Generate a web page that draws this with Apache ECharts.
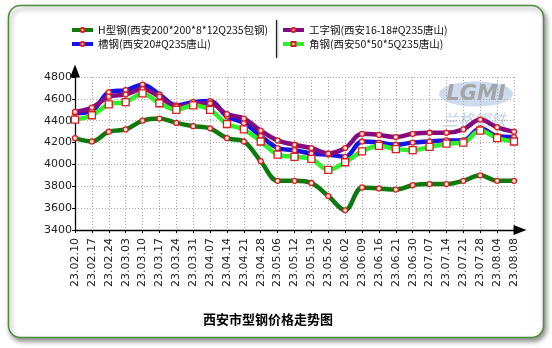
<!DOCTYPE html>
<html>
<head>
<meta charset="utf-8">
<script src="https://cdn.jsdelivr.net/npm/echarts@6/dist/echarts.min.js"></script>
<style>
  html, body { margin: 0; padding: 0; background: #fff; }
  #chart { width: 552px; height: 348px; }
</style>
</head>
<body>
<div id="chart"></div>
<script>
// Weekly quotation dates
const categories = [
  '23.02.10', '23.02.17', '23.02.24', '23.03.03', '23.03.10', '23.03.17', '23.03.24',
  '23.03.31', '23.04.07', '23.04.14', '23.04.21', '23.04.28', '23.05.06', '23.05.12',
  '23.05.19', '23.05.26', '23.06.02', '23.06.09', '23.06.16', '23.06.21', '23.06.30',
  '23.07.07', '23.07.14', '23.07.21', '23.07.28', '23.08.04', '23.08.08'
];

// Prices (yuan/ton)
const hBeam = [4240, 4210, 4300, 4320, 4400, 4420, 4380, 4350, 4330, 4240, 4210, 4030, 3850, 3850,
               3830, 3710, 3580, 3790, 3780, 3770, 3810, 3820, 3820, 3850, 3900, 3850, 3850];
const channel = [4470, 4490, 4660, 4680, 4730, 4640, 4540, 4570, 4580, 4440, 4380, 4260, 4150, 4130,
                 4100, 4090, 4070, 4210, 4200, 4180, 4200, 4210, 4220, 4220, 4330, 4260, 4250];
const iBeam = [4480, 4520, 4620, 4640, 4690, 4620, 4530, 4550, 4560, 4460, 4420, 4310, 4220, 4180,
               4150, 4100, 4150, 4280, 4270, 4250, 4280, 4290, 4290, 4320, 4410, 4340, 4300];
const angleSteel = [4410, 4450, 4550, 4570, 4650, 4560, 4500, 4540, 4500, 4370, 4320, 4210, 4090, 4070,
                    4050, 3950, 4020, 4120, 4170, 4140, 4130, 4160, 4190, 4200, 4310, 4240, 4210];

const seriesNames = [
  'H型钢(西安200*200*8*12Q235包钢)',
  '槽钢(西安20#Q235唐山)',
  '工字钢(西安16-18#Q235唐山)',
  '角钢(西安50*50*5Q235唐山)'
];
const seriesColors = ['#0c7a0c', '#1414e6', '#820a82', '#2cf22c'];

const yMin = 3400, yMax = 4800, yStep = 200;

const latinCjk = '"DejaVu Sans", "Noto Sans CJK SC", sans-serif';
const cjkFont = '"Noto Sans CJK SC", sans-serif';

function lineSeries(name, data, color, symbol, size) {
  return {
    name: name,
    type: 'line',
    data: data,
    smooth: 0.35,
    symbol: symbol,
    symbolSize: size,
    showAllSymbol: true,
    lineStyle: { color: color, width: 4.5 },
    itemStyle: { color: symbol === 'rect' ? '#ffffff' : '#ffd8d8', borderColor: '#d42020', borderWidth: 1.3 },
    emphasis: { disabled: true }
  };
}

const legendBase = {
  orient: 'vertical', top: 24, padding: 0,
  itemWidth: 21, itemHeight: 5, itemGap: 2,
  lineStyle: { width: 4 },
  textStyle: { fontFamily: cjkFont, fontSize: 10.5, color: '#111', lineHeight: 12 },
  selectedMode: false
};

const chart = echarts.init(document.getElementById('chart'), null, { renderer: 'canvas' });

chart.setOption({
  animation: false,
  backgroundColor: '#ffffff',
  graphic: [
    {
      type: 'rect', z: -10, silent: true,
      shape: { x: 8.5, y: 5.5, width: 535, height: 332, r: 12 },
      style: {
        fill: '#ffffff', stroke: '#4c8f3c', lineWidth: 1.5,
        shadowBlur: 5, shadowOffsetX: 2, shadowOffsetY: 3, shadowColor: 'rgba(0,0,0,0.45)'
      }
    },
    {
      type: 'line', silent: true,
      shape: { x1: 276.5, y1: 20, x2: 276.5, y2: 58 },
      style: { stroke: '#222', lineWidth: 1.2, shadowBlur: 2, shadowOffsetX: 1, shadowColor: 'rgba(0,0,0,0.3)' }
    },
    // LGMI watermark
    {
      type: 'group', silent: true, z: -1,
      children: [
        {
          type: 'ellipse',
          shape: { cx: 476, cy: 94, rx: 37, ry: 12.5 },
          style: { fill: '#b9cbe6', opacity: 0.7 }
        },
        {
          type: 'text',
          style: {
            x: 476, y: 95, text: 'LGMI', align: 'center', verticalAlign: 'middle',
            font: 'italic bold 21px "DejaVu Sans", sans-serif', fill: '#9a9a9a', opacity: 0.85
          }
        },
        {
          type: 'text',
          style: {
            x: 474, y: 120, text: '兰格钢铁', align: 'center', verticalAlign: 'middle',
            font: 'italic 16px "Noto Sans CJK SC", sans-serif', fill: '#9bb0d0', opacity: 0.6
          }
        }
      ]
    }
  ],
  title: {
    text: '西安市型钢价格走势图',
    left: 203, top: 313, padding: 0,
    textStyle: { fontFamily: cjkFont, fontSize: 13, fontWeight: 'bold', color: '#000' }
  },
  legend: [
    Object.assign({}, legendBase, { data: [seriesNames[0], seriesNames[1]], left: 70 }),
    Object.assign({}, legendBase, { data: [seriesNames[2], seriesNames[3]], left: 281 })
  ],
  grid: { left: 75, right: 38, top: 77, bottom: 118, containLabel: false },
  xAxis: {
    type: 'category',
    data: categories,
    boundaryGap: false,
    axisLine: {
      lineStyle: { color: '#000', width: 1.3 },
      symbol: ['none', 'triangle'], symbolSize: [10, 13], symbolOffset: [0, 6]
    },
    axisTick: { show: true, length: 3, lineStyle: { color: '#000' } },
    axisLabel: {
      rotate: 90, margin: 8, fontFamily: latinCjk, fontSize: 11, color: '#222',
      padding: [0, 0, 6, 0]
    },
    splitLine: { show: true, lineStyle: { color: '#a8a8a8', type: [1, 2], width: 1 } }
  },
  yAxis: {
    type: 'value',
    min: yMin, max: yMax, interval: yStep,
    axisLine: {
      show: true,
      lineStyle: { color: '#000', width: 1.3 },
      symbol: ['none', 'triangle'], symbolSize: [10, 13], symbolOffset: [0, 6]
    },
    axisTick: { show: true, length: 3, lineStyle: { color: '#000' } },
    axisLabel: {
      margin: 3, fontFamily: latinCjk, fontSize: 11, color: '#222',
      formatter: function (v) { return String(v); }
    },
    splitLine: { show: true, lineStyle: { color: '#a8a8a8', type: [1, 2], width: 1 } }
  },
  series: [
    lineSeries(seriesNames[0], hBeam, seriesColors[0], 'circle', 5),
    lineSeries(seriesNames[1], channel, seriesColors[1], 'circle', 5),
    lineSeries(seriesNames[2], iBeam, seriesColors[2], 'circle', 5),
    lineSeries(seriesNames[3], angleSteel, seriesColors[3], 'rect', 7)
  ]
});
</script>
</body>
</html>
